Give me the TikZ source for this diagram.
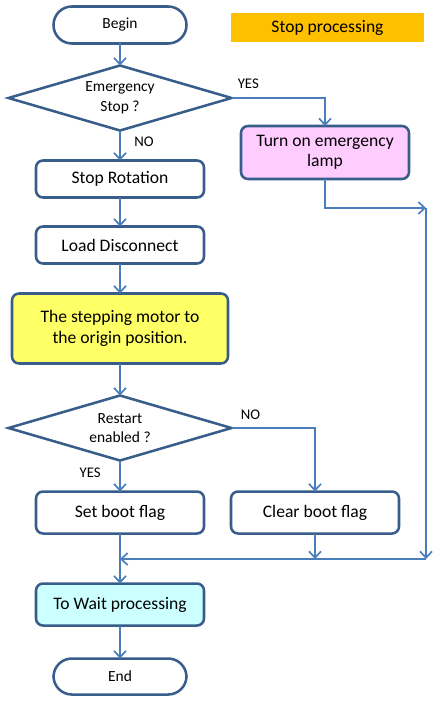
\documentclass[tikz,border=0pt]{standalone}
\usepackage{fontspec}
\setmainfont{Carlito}
\usetikzlibrary{arrows.meta,positioning,shapes.geometric}
\definecolor{edgeblue}{HTML}{385D8A}
\definecolor{lineblue}{HTML}{4A7EBB}
\definecolor{motoryellow}{HTML}{FFFF66}
\definecolor{lamppink}{HTML}{FFCCFF}
\definecolor{waitcyan}{HTML}{CCFFFF}
\definecolor{titleorange}{HTML}{FFC000}
\tikzset{
  box/.style={draw=edgeblue, line width=1.8pt, rounded corners=5pt, align=center,
              font=\fontsize{12.5}{14.5}\selectfont, inner sep=2pt, outer sep=0pt,
              minimum width=42mm, minimum height=9.25mm},
  proc/.style={box, fill=white},
  term/.style={box, rounded corners=4.6mm, minimum width=33.25mm,
               font=\fontsize{11}{14}\selectfont},
  banner/.style={box, draw=none, fill=titleorange, rounded corners=0pt},
  decide/.style={diamond, draw=edgeblue, line width=1.8pt, aspect=3.4,
                 inner sep=0pt, outer sep=0pt, minimum width=55.75mm,
                 minimum height=16.25mm, align=center,
                 font=\fontsize{11}{14}\selectfont},
  flow/.style={draw=lineblue, line width=1.2pt,
               -{Straight Barb[length=1.6mm, width=3mm]}},
  lbl/.style={font=\fontsize{10.5}{12}\selectfont, inner sep=0pt},
}
\begin{document}
\begin{tikzpicture}[x=0.25mm, y=-0.25mm]
  \useasboundingbox (0,0) rectangle (434,701);
  % main column
  \node[term] (begin) at (120,25) {Begin};
  \node[decide, below=5.5mm of begin] (emstop) {Emergency\\Stop ?};
  \node[proc, below=7.5mm of emstop] (stoprot) {Stop Rotation};
  \node[proc, below=7.25mm of stoprot] (loaddis) {Load Disconnect};
  \node[proc, fill=motoryellow, minimum width=54mm, minimum height=17.5mm,
        below=7.5mm of loaddis] (origin) {The stepping motor to\\the origin position.};
  \node[decide, below=8mm of origin] (restart) {Restart\\enabled ?};
  \node[proc, minimum height=10.5mm, below=7.75mm of restart] (setflag) {Set boot flag};
  \node[proc, minimum height=10.5mm, right=6.75mm of setflag] (clrflag) {Clear boot flag};
  \node[proc, fill=waitcyan, minimum height=10.5mm, below=12.5mm of setflag]
    (towait) {To Wait processing};
  \node[term, minimum height=9mm, below=8.25mm of towait] (finish) {End};
  % right side
  \node[banner, minimum width=48.25mm, minimum height=7.25mm] (title)
    at (327.5,27.5) {Stop processing};
  \node[proc, fill=lamppink, minimum height=13.25mm] (lamp)
    at (325,152.5) {Turn on emergency\\lamp};
  % branch labels
  \node[lbl, above right=2.25mm and 1.5mm of emstop.east] (yes1) {YES};
  \node[lbl, below right=1.5mm and 3.5mm of emstop.south] (no1) {NO};
  \node[lbl, above right=2mm and 2.25mm of restart.east] (no2) {NO};
  \node[lbl, below left=1.75mm and 4.75mm of restart.south] (yes2) {YES};
  % return path
  \coordinate (bendtop) at (426,208);
  \coordinate (bendbot) at (426,559);
  \coordinate (merge) at (120,559);
  % connectors
  \draw[flow] (begin) -- (emstop);
  \draw[flow] (emstop.east) -| (lamp.north);
  \draw[flow] (emstop) -- (stoprot);
  \draw[flow] (stoprot) -- (loaddis);
  \draw[flow] (loaddis) -- (origin);
  \draw[flow] (origin) -- (restart);
  \draw[flow] (restart.east) -| (clrflag.north);
  \draw[flow] (restart) -- (setflag);
  \draw[flow] (setflag) -- (towait);
  \draw[flow] (towait) -- (finish);
  \draw[flow] (lamp.south) |- (bendtop);
  \draw[flow] (bendtop) -- (bendbot);
  \draw[flow] (bendbot) -- (merge);
  \draw[flow] (clrflag.south) -- (clrflag.south |- bendbot);
\end{tikzpicture}
\end{document}
